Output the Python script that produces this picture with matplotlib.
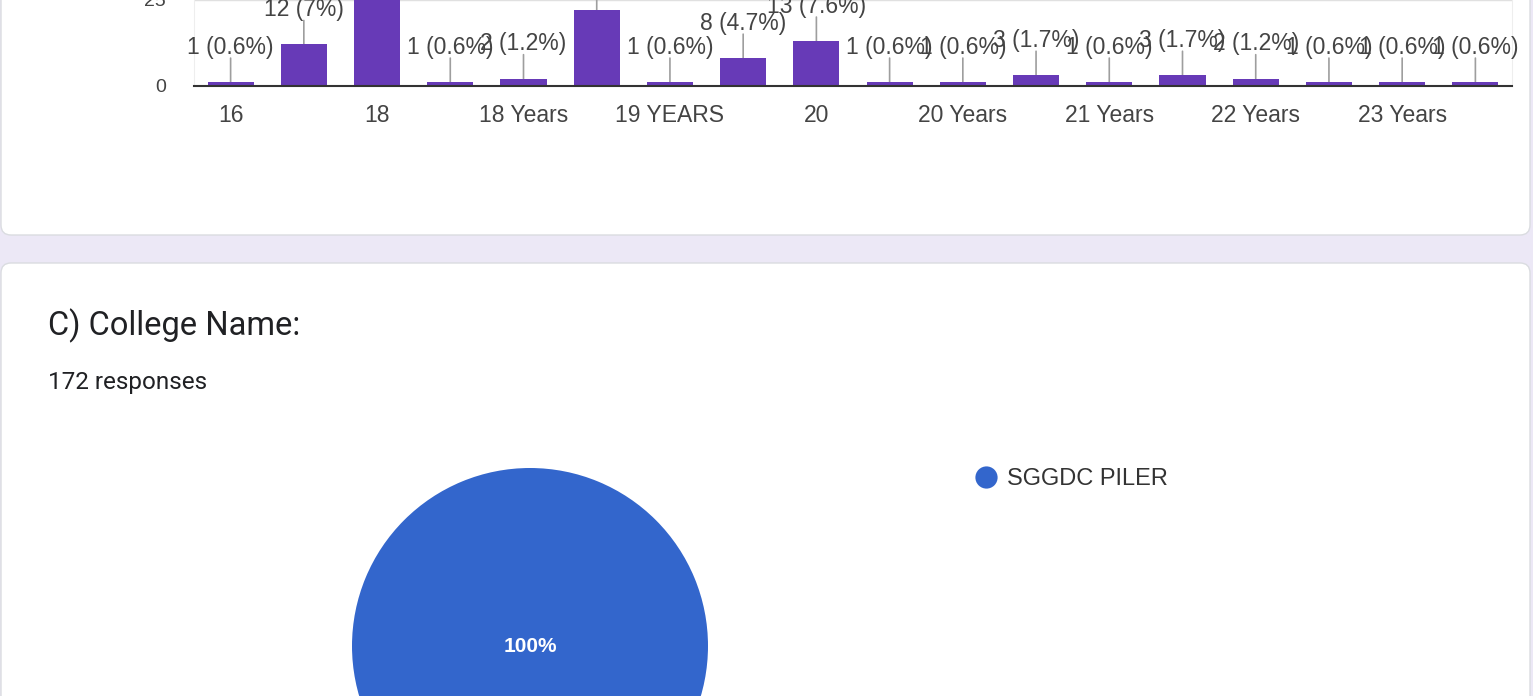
import matplotlib.pyplot as plt
from matplotlib.patches import FancyBboxPatch
from matplotlib.lines import Line2D

# age question (top card, cropped)
age_labels = ["16", "17", "18", "18 ", "18 Years", "19", "19 YEARS", "19 Years",
              "20", "20 ", "20 Years", "21", "21 Years", "22", "22 Years",
              "23", "23 Years", "24"]
age_counts = [1, 12, 98, 1, 2, 22, 1, 8, 13, 1, 1, 3, 1, 3, 2, 1, 1, 1]
y_ticks = [0, 25, 50, 75, 100]

# college question (bottom card)
college_title = "C) College Name:"
college_responses = 172
college_names = ["SGGDC PILER"]
college_counts = [172]

W, H = 1533, 696
BAR_COLOR = "#673ab7"
PIE_COLOR = "#3366cc"
BG = "#ece8f6"
TXT = "#444444"

fig = plt.figure(figsize=(W / 100, H / 100), dpi=100)
fig.patch.set_facecolor(BG)

# background layer in pixel coordinates for the two cards
bg = fig.add_axes([0, 0, 1, 1])
bg.set_xlim(0, W)
bg.set_ylim(H, 0)
bg.axis("off")
for (x0, y0, x1, y1) in [(1, -40, 1530, 235), (1, 263, 1530, 760)]:
    bg.add_patch(FancyBboxPatch((x0, y0), x1 - x0, y1 - y0,
                                boxstyle="round,pad=0,rounding_size=10",
                                facecolor="white", edgecolor="#dadce0", lw=1))

bg.text(48, 326, college_title, fontsize=23.5, family="Roboto", color="#202124",
        va="center", ha="left")
bg.text(48, 382, f"{college_responses} responses", fontsize=17.5, family="Roboto",
        color="#202124", va="center", ha="left")

# bar chart
px_per_unit = 3.42
base_y = 85.5
ax = fig.add_axes([194 / W, (H - base_y) / H, (1512 - 194) / W, 100 * px_per_unit / H])
ax.set_facecolor("none")
x = list(range(len(age_labels)))
ax.bar(x, age_counts, width=0.63, color=BAR_COLOR, zorder=3)
ax.set_xlim(-0.5, len(age_labels) - 0.5)
ax.set_ylim(0, 100)
ax.set_yticks(y_ticks)
ax.set_yticklabels([str(t) for t in y_ticks], family="Liberation Sans", fontsize=14, color=TXT)
ax.grid(axis="y", color="#e0e0e0", lw=1, zorder=0)
ax.set_xticks(x[::2])
ax.set_xticklabels(age_labels[::2], family="Liberation Sans", fontsize=16.5, color=TXT)
ax.tick_params(length=0)
ax.tick_params(axis="x", pad=13)
ax.tick_params(axis="y", pad=20)
ax.spines["top"].set_visible(False)
ax.spines["left"].set_color("#eeeeee")
ax.spines["right"].set_color("#eeeeee")
ax.spines["bottom"].set_color("#333333")
ax.spines["bottom"].set_linewidth(1.5)
ax.spines["bottom"].set_zorder(4)

total = sum(age_counts)
for i, v in enumerate(age_counts):
    pct = v / total * 100
    pct_txt = f"{pct:.1f}".rstrip("0").rstrip(".")
    ax.annotate("", xy=(i, v), xytext=(0, 24), textcoords="offset pixels",
                arrowprops=dict(arrowstyle="-", color="#9e9e9e", lw=1.2,
                                shrinkA=0, shrinkB=0), zorder=2)
    ax.annotate(f"{v} ({pct_txt}%)", xy=(i, v), xytext=(0, 35),
                textcoords="offset pixels", ha="center", va="center",
                family="Liberation Sans", fontsize=16.5, color=TXT)

# pie chart
r = 178
cx, cy = 530, 646
pax = fig.add_axes([(cx - r) / W, (H - cy - r) / H, 2 * r / W, 2 * r / H])
wedges, _, autotexts = pax.pie(college_counts, colors=[PIE_COLOR], startangle=90,
                               autopct="%1.0f%%", pctdistance=0, radius=1.0)
for t in autotexts:
    t.set_color("white")
    t.set_fontsize(15)
    t.set_fontweight("bold")
    t.set_family("Liberation Sans")
pax.set_xlim(-1, 1)
pax.set_ylim(-1, 1)
pax.set_aspect("equal")

handles = [Line2D([], [], marker="o", linestyle="none", markersize=16,
                  markerfacecolor=w.get_facecolor(), markeredgecolor="none") for w in wedges]
fig.legend(handles, college_names, loc="center left",
           bbox_to_anchor=(953 / W, (H - 479) / H), frameon=False,
           prop={"family": "Liberation Sans", "size": 17},
           handlelength=1.0, handletextpad=0.4, labelcolor="#333333")

fig.savefig("out.png", dpi=100, facecolor=fig.get_facecolor())
